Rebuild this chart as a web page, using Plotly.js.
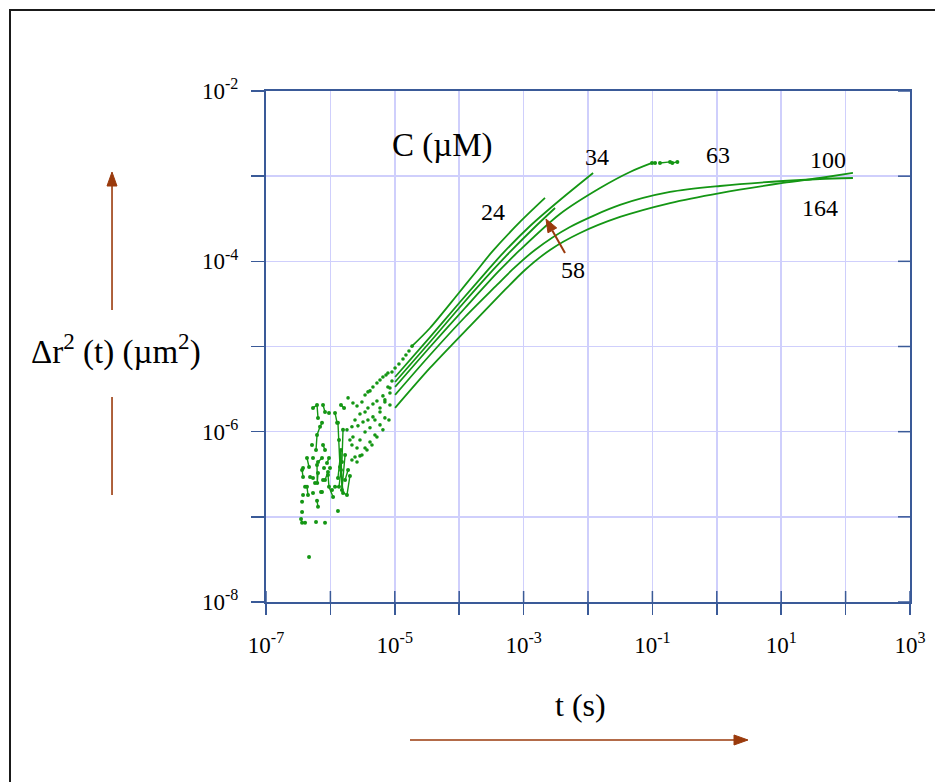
<!DOCTYPE html>
<html><head><meta charset="utf-8">
<script src="https://cdn.plot.ly/plotly-3.0.1.min.js"></script>
<style>
html,body{margin:0;padding:0;background:#fff;}
#chart{position:absolute;left:0;top:0;width:935px;height:782px;}
#frame{position:absolute;left:9px;top:9px;width:940px;height:790px;border-left:2px solid #1a1a1a;border-top:2px solid #1a1a1a;box-sizing:border-box;pointer-events:none;}
</style></head><body>
<div id="chart"></div>
<div id="frame"></div>
<script>
// concentration labels (µM)
const concLabels = ['24','34','58','63','100','164'];

// ---- noisy short-time data (t in s, MSD in µm^2); null = gap ----
// zig-zag part (points joined by lines)
const t24z = [5.37e-7,6.20e-7,6.42e-7,null,7.68e-7,8.25e-7,null,9.51e-7,null,1.18e-6,1.27e-6,null,1.46e-6,1.63e-6];
const m24z = [1.90e-6,2.06e-6,1.45e-6,null,2.06e-6,1.70e-6,null,1.66e-6,null,1.66e-6,1.27e-6,null,2.06e-6,1.90e-6];
const t34z = [5.98e-7,6.20e-7,6.90e-7,7.41e-7,null,7.68e-7,8.25e-7,null,1.31e-6,1.36e-6,1.41e-6,1.51e-6,1.57e-6];
const m34z = [6.10e-7,9.15e-7,1.14e-6,1.27e-6,null,6.98e-7,6.10e-7,null,1.27e-6,7.99e-7,3.85e-7,4.41e-7,1.05e-6];
const t58z = [5.18e-7,null,5.37e-7,null,6.42e-7,7.41e-7,null,7.96e-7,null,8.86e-7,9.51e-7,null,9.86e-7,null,1.31e-6,1.46e-6,1.51e-6,1.69e-6];
const m58z = [6.98e-7,null,4.91e-7,null,4.41e-7,4.91e-7,null,3.75e-7,null,4.29e-7,4.91e-7,null,3.75e-7,null,2.86e-7,6.10e-7,2.07e-7,5.33e-7];
const t63z = [3.76e-7,null,4.33e-7,4.66e-7,null,6.20e-7,6.25e-7,6.42e-7,null,7.68e-7,null,8.25e-7,9.18e-7,null,1.18e-6,1.36e-6,1.46e-6,1.57e-6,1.81e-6,2.01e-6];
const m63z = [3.75e-7,null,4.91e-7,3.85e-7,null,4.06e-7,2.50e-7,3.28e-7,null,2.71e-7,null,2.71e-7,3.37e-7,null,2.25e-7,2.25e-7,3.55e-7,1.91e-7,1.81e-7,3.02e-7];
const t100z = [3.63e-7,3.76e-7,null,4.83e-7,5.37e-7,null,5.77e-7,null,6.20e-7,6.42e-7,null,7.15e-7,7.41e-7,null,9.18e-7,9.51e-7,1.10e-6,null,1.31e-6,null,1.69e-6,1.88e-6];
const m100z = [3.55e-7,2.94e-7,null,2.94e-7,2.86e-7,null,2.50e-7,null,1.54e-7,1.31e-7,null,1.96e-7,1.96e-7,null,3.10e-7,2.25e-7,1.71e-7,null,1.17e-7,null,2.71e-7,3.55e-7];
const t164z = [3.50e-7,3.63e-7,4.04e-7,null,3.63e-7,null,3.63e-7,null,4.04e-7,4.33e-7,4.49e-7,null,5.37e-7,null,3.76e-7,null,4.66e-7,null,5.98e-7,null,8.25e-7,null,1.06e-6];
const m164z = [9.44e-8,8.5e-8,8.5e-8,null,1.14e-7,null,1.50e-7,null,2.25e-7,2.25e-7,1.81e-7,null,1.91e-7,null,1.81e-7,null,3.38e-8,null,8.7e-8,null,8.5e-8,null,2.07e-7];

// dotted chains (separate points)
const t24c = [1.88e-6,2.24e-6,2.59e-6,3.09e-6,3.45e-6,3.83e-6,4.12e-6,4.58e-6,5.28e-6,5.89e-6,6.54e-6,7.30e-6,7.82e-6,9.04e-6,1.01e-5,1.16e-5,1.34e-5,1.49e-5,1.66e-5,1.85e-5];
const m24c = [2.49e-6,2.17e-6,2.00e-6,2.23e-6,2.70e-6,2.93e-6,3.01e-6,3.35e-6,3.73e-6,4.05e-6,4.38e-6,4.63e-6,4.89e-6,5.02e-6,5.60e-6,6.24e-6,7.14e-6,7.95e-6,8.86e-6,1.01e-5];
const t34c = [1.81e-6,2.16e-6,2.41e-6,2.88e-6,3.45e-6,3.83e-6,4.58e-6,5.28e-6,6.54e-6,7.82e-6,9.04e-6];
const m34c = [1.05e-6,1.14e-6,1.37e-6,1.61e-6,1.70e-6,1.90e-6,2.11e-6,2.29e-6,2.63e-6,3.35e-6,3.94e-6];
const t58c = [2.01e-6,2.24e-6,2.68e-6,3.21e-6,3.83e-6,4.58e-6,5.89e-6,7.02e-6,8.41e-6];
const m58c = [7.99e-7,8.66e-7,1.17e-6,1.30e-6,1.37e-6,1.49e-6,1.70e-6,2.36e-6,3.26e-6];
const t63c = [2.16e-6,2.59e-6,2.88e-6,3.45e-6,4.12e-6,4.92e-6,5.89e-6,7.02e-6,8.41e-6];
const m63c = [6.98e-7,6.43e-7,7.99e-7,9.92e-7,1.11e-6,1.37e-6,1.90e-6,2.23e-6,2.85e-6];
const t100c = [2.41e-6,2.88e-6,3.45e-6,4.12e-6,4.92e-6,5.89e-6,7.02e-6,8.41e-6];
const m100c = [5.05e-7,5.19e-7,6.43e-7,7.57e-7,9.15e-7,1.20e-6,1.45e-6,2.06e-6];
const t164c = [2.16e-6,2.59e-6,3.09e-6,3.70e-6,4.42e-6,5.28e-6,6.54e-6,8.11e-6];
const m164c = [4.65e-7,4.41e-7,5.33e-7,6.10e-7,6.98e-7,8.66e-7,1.05e-6,1.37e-6];

// ---- smooth longer-time data ----
const t24 = [1.85e-5,3.52e-5,9.58e-5,1.76e-4,3.23e-4,8.79e-4,2.15e-3];
const m24 = [1.01e-5,1.65e-5,4.14e-5,7.30e-5,1.29e-4,2.90e-4,5.55e-4];
const t34 = [1.01e-5,3.52e-5,1.03e-4,2.80e-4,4.79e-4,1.26e-3,3.67e-3,1.20e-2];
const m34 = [4.38e-6,1.29e-5,3.33e-5,7.92e-5,1.25e-4,2.60e-4,5.25e-4,1.09e-3];
const t58 = [1.01e-5,3.52e-5,1.03e-4,3.35e-4,6.15e-4,1.50e-3,3.08e-3];
const m58 = [3.83e-6,1.13e-5,2.91e-5,7.92e-5,1.29e-4,2.53e-4,4.23e-4];
const t63 = [1.01e-5,3.52e-5,1.23e-4,4.00e-4,8.79e-4,3.67e-3,1.54e-2,4.49e-2,9.87e-2];
const m63 = [3.35e-6,9.87e-6,2.83e-5,7.50e-5,1.36e-4,3.60e-4,7.26e-4,1.12e-3,1.43e-3];
const t63tail = [9.87e-2,1.10e-1,1.21e-1,1.31e-1,1.88e-1,2.04e-1,2.44e-1];
const m63tail = [1.43e-3,1.43e-3,null,1.43e-3,1.47e-3,1.43e-3,1.47e-3];
const t100 = [1.01e-5,3.52e-5,1.23e-4,3.86e-4,6.61e-4,1.50e-3,5.25e-3,3.14e-2,1.88e-1,1.12,10.7,40.0,130];
const m100 = [2.70e-6,7.95e-6,2.22e-5,5.28e-5,7.92e-5,1.36e-4,2.53e-4,4.59e-4,6.52e-4,7.67e-4,8.78e-4,9.26e-4,9.52e-4];
const t164 = [1.01e-5,3.52e-5,1.47e-4,4.30e-4,1.05e-3,2.57e-3,7.52e-3,3.14e-2,1.88e-1,1.12,10.7,40.0,130];
const m164 = [1.90e-6,5.60e-6,1.74e-5,4.03e-5,7.92e-5,1.36e-4,2.15e-4,3.32e-4,4.84e-4,6.34e-4,8.32e-4,9.52e-4,1.09e-3];

// ---- ticks ----
const xLabelVals = [1e-7,1e-5,1e-3,1e-1,10,1000];
const xLabelText = ['10<sup>-7</sup>','10<sup>-5</sup>','10<sup>-3</sup>','10<sup>-1</sup>','10<sup>1</sup>','10<sup>3</sup>'];
const xMinorVals = [1e-6,1e-4,1e-2,1,100];
const xAllVals = [1e-7,1e-6,1e-5,1e-4,1e-3,1e-2,1e-1,1,10,100,1000];
const yLabelVals = [1e-8,1e-6,1e-4,1e-2];
const yLabelText = ['10<sup>-8</sup>','10<sup>-6</sup>','10<sup>-4</sup>','10<sup>-2</sup>'];
const yMinorVals = [1e-7,1e-5,1e-3];
const yAllVals = [1e-8,1e-7,1e-6,1e-5,1e-4,1e-3,1e-2];

const green = '#149614';
const brown = '#9a3a0c';
const axisBlue = '#3a5a98';
const gridCol = '#cfcffc';
const serif = 'Liberation Serif, Times New Roman, serif';

function zig(t, m){
  return {x:t, y:m, type:'scatter', mode:'lines+markers', connectgaps:false,
    line:{color:green, width:1.4}, marker:{color:green, size:4}, showlegend:false, hoverinfo:'skip'};
}
function dots(t, m){
  return {x:t, y:m, type:'scatter', mode:'markers',
    marker:{color:green, size:3.6}, showlegend:false, hoverinfo:'skip'};
}
function smooth(t, m){
  return {x:t, y:m, type:'scatter', mode:'lines',
    line:{color:green, width:1.8, shape:'spline', smoothing:0.8}, showlegend:false, hoverinfo:'skip'};
}

const traces = [
  zig(t24z,m24z), zig(t34z,m34z), zig(t58z,m58z), zig(t63z,m63z), zig(t100z,m100z), zig(t164z,m164z),
  dots(t24c,m24c), dots(t34c,m34c), dots(t58c,m58c), dots(t63c,m63c), dots(t100c,m100c), dots(t164c,m164c),
  smooth(t24,m24), smooth(t34,m34), smooth(t58,m58), smooth(t63,m63), smooth(t100,m100), smooth(t164,m164),
  zig(t63tail,m63tail)
];

// label positions in paper coordinates of the plot box
const labelPos = {
  '24':[0.3525,0.7632], '34':[0.5140,0.8708], '58':[0.4767,0.6497],
  '63':[0.7019,0.8748], '100':[0.8727,0.8650], '164':[0.8602,0.7710]
};

const annotations = concLabels.map(c => ({
  xref:'paper', yref:'paper', x:labelPos[c][0], y:labelPos[c][1], text:c, showarrow:false,
  font:{family:serif, size:24, color:'#000'}, xanchor:'center', yanchor:'middle'
}));
annotations.push(
  {xref:'paper', yref:'paper', x:0.2733, y:0.8943, text:'C (µM)', showarrow:false,
   font:{family:serif, size:33, color:'#000'}, xanchor:'center', yanchor:'middle'},
  {xref:'paper', yref:'paper', x:0.4876, y:-0.2016, text:'t (s)', showarrow:false,
   font:{family:serif, size:32, color:'#000'}, xanchor:'center', yanchor:'middle'},
  {xref:'paper', yref:'paper', x:-0.2329, y:0.4932, text:'Δr<sup>2</sup> (t) (µm<sup>2</sup>)', showarrow:false,
   font:{family:serif, size:33, color:'#000'}, xanchor:'center', yanchor:'middle'}
);

// decorative arrows (paper coordinates) and inner tick marks
const shapes = [];
function seg(x0,y0,x1,y1,w){ shapes.push({type:'line', xref:'paper', yref:'paper', x0:x0, y0:y0, x1:x1, y1:y1, line:{color:brown, width:w}}); }
function head(p){ shapes.push({type:'path', xref:'paper', yref:'paper', path:p, fillcolor:brown, line:{color:brown, width:1}}); }
seg(-0.2391, 0.4012, -0.2391, 0.2094, 1.6);
seg(-0.2391, 0.5714, -0.2391, 0.8141, 1.6);
head('M -0.23913 0.84149 L -0.24689 0.81409 L -0.23137 0.81409 Z');
seg(0.2236, -0.27006, 0.72671, -0.27006, 1.6);
head('M 0.74845 -0.27006 L 0.72671 -0.26027 L 0.72671 -0.27984 Z');
seg(0.46429, 0.68297, 0.44457, 0.72720, 2);
head('M 0.43478 0.74951 L 0.43784 0.72251 L 0.45140 0.73209 Z');
xAllVals.forEach(v => shapes.push({type:'line', xref:'x', yref:'paper', x0:v, x1:v, y0:0, y1:11/511, line:{color:axisBlue, width:1.5}}));
yAllVals.forEach(v => shapes.push({type:'line', xref:'paper', yref:'y', x0:1-12/644, x1:1, y0:v, y1:v, line:{color:axisBlue, width:1.5}}));

const layout = {
  width:935, height:782,
  margin:{l:266, r:25, t:91, b:180},
  paper_bgcolor:'rgba(0,0,0,0)', plot_bgcolor:'rgba(0,0,0,0)',
  showlegend:false,
  xaxis:{type:'log', range:[-7,3], tickmode:'array', tickvals:xLabelVals, ticktext:xLabelText,
    ticks:'outside', ticklen:11, tickwidth:1.5, tickcolor:axisBlue,
    minor:{tickmode:'array', tickvals:xMinorVals, ticks:'outside', ticklen:11, tickwidth:1.5, tickcolor:axisBlue,
      showgrid:true, gridcolor:gridCol, gridwidth:1.6},
    showline:true, linecolor:axisBlue, linewidth:2, mirror:true,
    showgrid:true, gridcolor:gridCol, gridwidth:1.6, zeroline:false,
    tickfont:{family:serif, size:23, color:'#000'}, ticklabelstandoff:10, automargin:false},
  yaxis:{type:'log', range:[-8,-2], tickmode:'array', tickvals:yLabelVals, ticktext:yLabelText,
    ticks:'outside', ticklen:13, tickwidth:1.5, tickcolor:axisBlue,
    minor:{tickmode:'array', tickvals:yMinorVals, ticks:'outside', ticklen:13, tickwidth:1.5, tickcolor:axisBlue,
      showgrid:true, gridcolor:gridCol, gridwidth:1.6},
    showline:true, linecolor:axisBlue, linewidth:2, mirror:true,
    showgrid:true, gridcolor:gridCol, gridwidth:1.6, zeroline:false,
    tickfont:{family:serif, size:23, color:'#000'}, ticklabelstandoff:8, automargin:false},
  shapes:shapes,
  annotations:annotations
};

Plotly.newPlot('chart', traces, layout, {staticPlot:true, displayModeBar:false});
</script></body></html>
